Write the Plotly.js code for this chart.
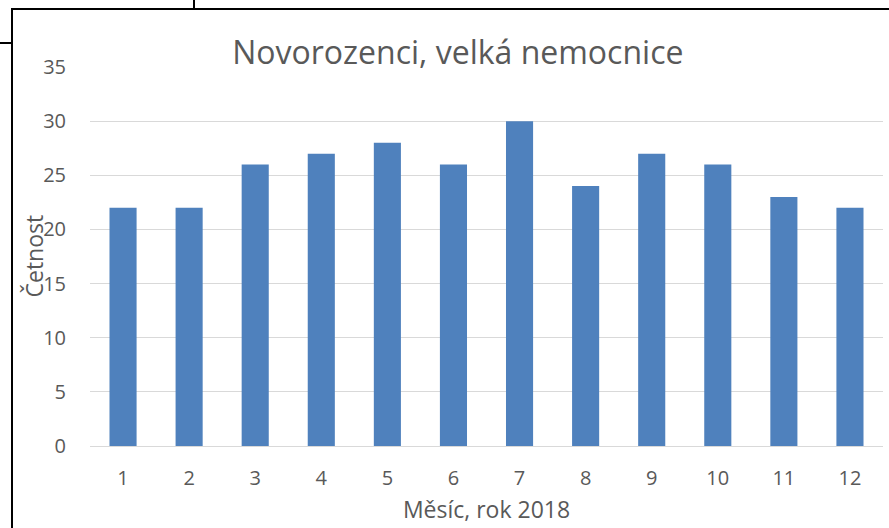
<!DOCTYPE html>
<html>
<head>
<meta charset="utf-8">
<script src="https://cdn.plot.ly/plotly-3.0.1.min.js"></script>
<style>
html,body{margin:0;padding:0;background:#fff;}
#wrap{position:relative;width:889px;height:528px;overflow:hidden;}
#chart{position:absolute;left:0;top:0;width:889px;height:528px;}
.ln{position:absolute;background:#000;}
</style>
</head>
<body>
<div id="wrap">
<div id="chart"></div>
<div class="ln" style="left:11px;top:8px;width:878px;height:2px;"></div>
<div class="ln" style="left:11px;top:8px;width:2px;height:520px;"></div>
<div class="ln" style="left:0px;top:42px;width:11px;height:2px;"></div>
<div class="ln" style="left:193px;top:0px;width:2px;height:9px;"></div>
</div>
<script>
const months = ['1','2','3','4','5','6','7','8','9','10','11','12'];
const counts = [22,22,26,27,28,26,30,24,27,26,23,22];
const yTicks = [0,5,10,15,20,25,30,35];
const titleText = 'Novorozenci, velká nemocnice';
const xTitle = 'Měsíc, rok 2018';
const yTitle = 'Četnost';

const font = '"Open Sans", Lato, sans-serif';
const textColor = '#595959';

const data = [{
  type: 'bar',
  x: months,
  y: counts,
  marker: {color: '#4F81BD'},
  hoverinfo: 'x+y'
}];

const layout = {
  width: 889, height: 528,
  margin: {l: 90, r: 6, t: 67, b: 82},
  paper_bgcolor: 'rgba(0,0,0,0)',
  plot_bgcolor: '#fff',
  bargap: 0.59,
  showlegend: false,
  font: {family: font, color: textColor, size: 20},
  title: {
    text: titleText,
    font: {family: font, size: 32, color: textColor},
    xref: 'container', x: 0.515, xanchor: 'center',
    yref: 'container', y: 1 - 53/528, yanchor: 'middle'
  },
  xaxis: {
    type: 'category',
    showgrid: false,
    showline: false,
    zeroline: false,
    ticks: 'outside', ticklen: 14, tickcolor: 'rgba(0,0,0,0)',
    tickfont: {family: font, size: 20, color: textColor},
    title: {text: xTitle, font: {family: font, size: 23, color: textColor}, standoff: 11}
  },
  yaxis: {
    range: [0, 35],
    tickvals: yTicks,
    showgrid: true, gridcolor: '#D9D9D9', gridwidth: 1,
    zeroline: true, zerolinecolor: '#D9D9D9', zerolinewidth: 1,
    showline: false,
    ticks: 'outside', ticklen: 19, tickcolor: 'rgba(0,0,0,0)',
    tickfont: {family: font, size: 20, color: textColor}
  },
  annotations: [{
    text: yTitle,
    xref: 'paper', yref: 'paper',
    x: (33 - 90) / 793, y: 0.5,
    xanchor: 'center', yanchor: 'middle',
    textangle: -90, showarrow: false,
    font: {family: font, size: 23, color: textColor}
  }]
};

Plotly.newPlot('chart', data, layout, {displayModeBar: false, staticPlot: true});
</script>
</body>
</html>
